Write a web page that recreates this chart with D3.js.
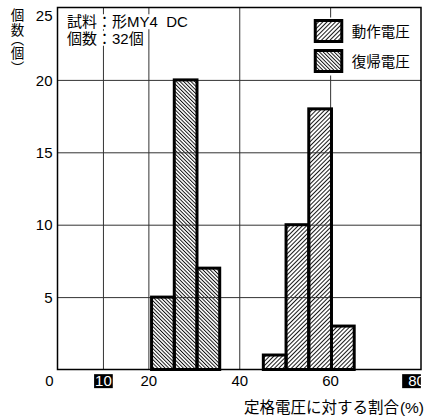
<!DOCTYPE html>
<html>
<head>
<meta charset="utf-8">
<script src="https://cdn.jsdelivr.net/npm/d3@7"></script>
<style>
  body { margin: 0; background: #fff; }
  text { font-family: "Liberation Sans", "Noto Sans CJK JP", sans-serif; fill: #000; }
</style>
</head>
<body>
<div id="chart"></div>
<script>
// values
var binWidth = 5;
var operateStart = [45.3, 50.3, 55.3, 60.3];
var operateCount = [1, 10, 18, 3];
var resetStart = [20.7, 25.7, 30.7];
var resetCount = [5, 20, 7];

var xTicks = [0, 10, 20, 40, 60, 80];
var xBoxed = [10, 80];
var xGrid = [10, 20, 40, 60];
var yTicks = [5, 10, 15, 20, 25];
var yGrid = [5, 10, 15, 20];

var legendLabels = ["動作電圧", "復帰電圧"];
var noteLines = ["試料：形MY4\u00a0\u00a0DC", "個数：32個"];
var yTitle = "個数（個）";
var xTitle = "定格電圧に対する割合";
var xUnit = "(%)";

var totalWidth = 425, totalHeight = 419;
var margin = { top: 7.5, left: 57.5, right: 4, bottom: 49.5 };
var width = totalWidth - margin.left - margin.right;
var height = totalHeight - margin.top - margin.bottom;

var svg = d3.select("#chart").append("svg")
  .attr("width", totalWidth)
  .attr("height", totalHeight);

// hatch patterns
var defs = svg.append("defs");
function hatch(id, angle, gap) {
  defs.append("pattern")
    .attr("id", id)
    .attr("patternUnits", "userSpaceOnUse")
    .attr("width", gap).attr("height", gap)
    .attr("patternTransform", "rotate(" + angle + ")")
  .append("line")
    .attr("x1", 0.5).attr("y1", 0).attr("x2", 0.5).attr("y2", gap)
    .attr("stroke", "#000").attr("stroke-width", 0.9);
}
hatch("hatchOp", 45, 3);
hatch("hatchRs", -45, 2.6);

var x = d3.scaleLinear().domain([0, 80]).range([0, width]);
var y = d3.scaleLinear().domain([0, 25]).range([height, 0]);

var g = svg.append("g")
  .attr("transform", "translate(" + margin.left + "," + margin.top + ")");

// bars (transparent hatch so grid shows through)
function bars(starts, counts, fillId) {
  g.selectAll(null)
    .data(starts.map((s, i) => ({ s: s, c: counts[i] })))
    .enter().append("rect")
      .attr("x", d => x(d.s))
      .attr("width", d => x(d.s + binWidth) - x(d.s))
      .attr("y", d => y(d.c))
      .attr("height", d => height - y(d.c))
      .attr("fill", "url(#" + fillId + ")");
}
bars(resetStart, resetCount, "hatchRs");
bars(operateStart, operateCount, "hatchOp");

// gridlines
g.append("g")
  .attr("transform", "translate(0," + height + ")")
  .call(d3.axisBottom(x).tickValues(xGrid).tickSize(-height).tickFormat(""))
  .call(a => a.select(".domain").remove())
  .selectAll("line").attr("stroke", "#333").attr("stroke-width", 1);

g.append("g")
  .call(d3.axisLeft(y).tickValues(yGrid).tickSize(-width).tickFormat(""))
  .call(a => a.select(".domain").remove())
  .selectAll("line").attr("stroke", "#333").attr("stroke-width", 1);

// bar outlines
function outlines(starts, counts) {
  g.selectAll(null)
    .data(starts.map((s, i) => ({ s: s, c: counts[i] })))
    .enter().append("rect")
      .attr("x", d => x(d.s))
      .attr("width", d => x(d.s + binWidth) - x(d.s))
      .attr("y", d => y(d.c))
      .attr("height", d => height - y(d.c))
      .attr("fill", "none")
      .attr("stroke", "#000")
      .attr("stroke-width", 3);
}
outlines(resetStart, resetCount);
outlines(operateStart, operateCount);

// frame
g.append("rect")
  .attr("width", width).attr("height", height)
  .attr("fill", "none").attr("stroke", "#000").attr("stroke-width", 1.5);

// y tick labels
var yAxis = g.append("g")
  .call(d3.axisLeft(y).tickValues(yTicks).tickSize(0).tickPadding(5))
  .call(a => a.select(".domain").remove());
yAxis.selectAll("text")
  .style("font-size", "15px")
  .attr("dy", d => d === 25 ? "0.85em" : "0.35em");

// x tick labels
var xAxis = g.append("g")
  .attr("transform", "translate(0," + height + ")")
  .call(d3.axisBottom(x).tickValues(xTicks).tickSize(0).tickPadding(6))
  .call(a => a.select(".domain").remove());
xAxis.selectAll("text")
  .style("font-size", "15px")
  .attr("dx", d => d === 0 ? -8.5 : d === 80 ? -5 : 0);
xAxis.selectAll(".tick").filter(d => xBoxed.indexOf(d) >= 0).each(function() {
  var t = d3.select(this).select("text");
  var b = t.node().getBBox();
  var dx = +t.attr("dx") || 0;
  d3.select(this).insert("rect", "text")
    .attr("x", b.x + dx - 1).attr("y", b.y + 2)
    .attr("width", b.width + 2).attr("height", b.height - 3)
    .attr("fill", "#000");
  t.style("fill", "#fff");
});

// note in upper left with white backing
var note = g.append("g");
noteLines.forEach(function(s, i) {
  var t = note.append("text")
    .attr("x", 9.5).attr("y", 14.5 + i * 16.5)
    .attr("dy", "0.35em")
    .style("font-size", "15px")
    .text(s);
  var b = t.node().getBBox();
  note.insert("rect", "text")
    .attr("x", b.x - 1).attr("y", b.y + 1)
    .attr("width", b.width + 2).attr("height", b.height - 2)
    .attr("fill", "#fff");
});

// legend
var legend = g.append("g").attr("transform", "translate(" + x(56.4) + ",10)");
legend.append("rect")
  .attr("x", 0).attr("y", 0).attr("width", 100).attr("height", 58)
  .attr("fill", "#fff");
legendLabels.forEach(function(s, i) {
  legend.append("rect")
    .attr("x", 1.5).attr("y", 3 + i * 30)
    .attr("width", 26.5).attr("height", 21)
    .attr("fill", "url(#" + (i === 0 ? "hatchOp" : "hatchRs") + ")")
    .attr("stroke", "#000").attr("stroke-width", 3);
  legend.append("text")
    .attr("x", 38).attr("y", 14 + i * 30)
    .attr("dy", "0.35em")
    .style("font-size", "14.5px")
    .text(s);
});

// y title, written vertically
svg.append("text")
  .attr("x", 16).attr("y", 8)
  .style("writing-mode", "vertical-rl")
  .style("font-feature-settings", "'vpal'")
  .style("font-size", "13.5px")
  .style("letter-spacing", "1.5px")
  .text(yTitle);

// x title
var xt = svg.append("text")
  .attr("x", 424).attr("y", 407.5)
  .attr("dy", "0.35em")
  .attr("text-anchor", "end")
  .style("font-size", "15.5px");
xt.append("tspan").text(xTitle);
xt.append("tspan").attr("dx", 1).text(xUnit);
</script>
</body>
</html>
